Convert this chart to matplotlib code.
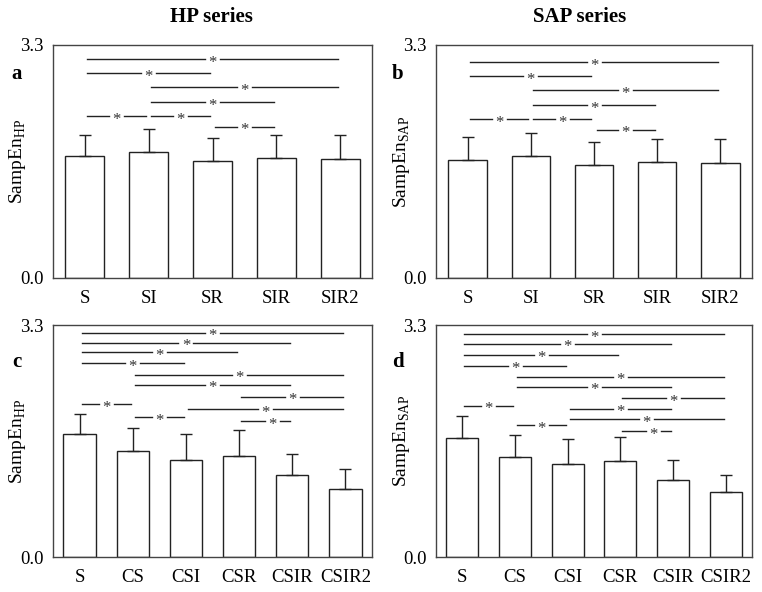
import matplotlib
matplotlib.use('Agg')
import matplotlib.pyplot as plt

plt.rcParams['font.family'] = ['Liberation Serif', 'DejaVu Serif']
plt.rcParams['mathtext.fontset'] = 'custom'
plt.rcParams['mathtext.rm'] = 'Liberation Serif'

# categories
cats_top = ['S', 'SI', 'SR', 'SIR', 'SIR2']
cats_bot = ['S', 'CS', 'CSI', 'CSR', 'CSIR', 'CSIR2']

# means and SD (upper error only)
hp_top = [1.73, 1.79, 1.66, 1.70, 1.68]
hp_top_err = [0.30, 0.32, 0.32, 0.33, 0.34]
sap_top = [1.67, 1.73, 1.60, 1.64, 1.63]
sap_top_err = [0.32, 0.33, 0.32, 0.33, 0.34]
hp_bot = [1.75, 1.505, 1.38, 1.44, 1.16, 0.97]
hp_bot_err = [0.29, 0.325, 0.37, 0.36, 0.31, 0.275]
sap_bot = [1.69, 1.425, 1.325, 1.36, 1.09, 0.92]
sap_bot_err = [0.32, 0.305, 0.355, 0.34, 0.29, 0.24]

# significant pairs (index i, index j) and the height of each bracket
sig_top_hp = [(0, 4), (0, 2), (1, 4), (1, 3), (0, 1), (1, 2), (2, 3)]
sig_top_hp_y = [3.10, 2.90, 2.705, 2.49, 2.29, 2.29, 2.14]
sig_top_sap = [(0, 4), (0, 2), (1, 4), (1, 3), (0, 1), (1, 2), (2, 3)]
sig_top_sap_y = [3.055, 2.86, 2.66, 2.45, 2.25, 2.25, 2.10]
sig_bot_hp = [(0, 5), (0, 4), (0, 3), (0, 2), (1, 5), (1, 4), (3, 5), (0, 1), (2, 5), (1, 2), (3, 4)]
sig_bot_hp_y = [3.19, 3.05, 2.91, 2.755, 2.59, 2.45, 2.28, 2.17, 2.10, 1.99, 1.93]
sig_bot_sap = [(0, 5), (0, 4), (0, 3), (0, 2), (1, 5), (1, 4), (3, 5), (0, 1), (2, 4), (2, 5), (1, 2), (3, 4)]
sig_bot_sap_y = [3.17, 3.03, 2.88, 2.72, 2.565, 2.42, 2.26, 2.15, 2.11, 1.96, 1.875, 1.79]

YMAX = 3.3
ink = '#222222'

fig = plt.figure(figsize=(7.62, 5.92), dpi=100)

def panel(rect, cats, vals, errs, pairs, levels, ylab):
    ax = fig.add_axes(rect)
    n = len(cats)
    x = list(range(n))
    ax.bar(x, vals, width=0.61, color='white', edgecolor=ink, linewidth=1.0, zorder=2)
    ax.errorbar(x, vals, yerr=[[0] * n, errs], fmt='none', ecolor=ink,
                elinewidth=1.0, capsize=4, capthick=1.0, zorder=3)
    ax.set_xlim(-0.5, n - 0.5)
    ax.set_ylim(0, YMAX)
    ax.set_yticks([0, YMAX])
    ax.set_yticklabels(['0.0', '3.3'])
    ax.set_xticks(x)
    ax.set_xticklabels(cats)
    ax.tick_params(length=0, labelsize=13.5)
    ax.tick_params(axis='y', pad=7)
    ax.tick_params(axis='x', pad=9)
    for s in ax.spines.values():
        s.set_color('#444444')
        s.set_linewidth(1.0)
    ax.set_ylabel(ylab, fontsize=14)
    ax.yaxis.set_label_coords(-0.077, 0.5)
    # gap around the star in data units
    px_per_unit = rect[2] * 762 / n
    gap = 7.5 / px_per_unit
    for (i, j), yv in zip(pairs, levels):
        x1, x2 = i + 0.04, j - 0.04
        mid = (i + j) / 2
        # in the source the star of the CSR-CSIR bracket sits a little right of centre
        if n == 6 and (i, j) == (3, 4):
            mid += 7 / px_per_unit
        ax.plot([x1, mid - gap], [yv, yv], color=ink, lw=1.0, zorder=3)
        ax.plot([mid + gap, x2], [yv, yv], color=ink, lw=1.0, zorder=3)
        ax.text(mid, yv - 0.05, '*', ha='center', va='center', fontsize=12,
                color='#333333', zorder=4)
    return ax

L1, W1 = 53 / 762, (372 - 53) / 762
L2, W2 = 436 / 762, (752 - 436) / 762
B1, H1 = 1 - 278 / 592, (278 - 45) / 592
B2, H2 = 1 - 557 / 592, (557 - 325) / 592

panel([L1, B1, W1, H1], cats_top, hp_top, hp_top_err, sig_top_hp, sig_top_hp_y, r'SampEn$_{\mathrm{HP}}$')
panel([L2, B1, W2, H1], cats_top, sap_top, sap_top_err, sig_top_sap, sig_top_sap_y, r'SampEn$_{\mathrm{SAP}}$')
panel([L1, B2, W1, H2], cats_bot, hp_bot, hp_bot_err, sig_bot_hp, sig_bot_hp_y, r'SampEn$_{\mathrm{HP}}$')
panel([L2, B2, W2, H2], cats_bot, sap_bot, sap_bot_err, sig_bot_sap, sig_bot_sap_y, r'SampEn$_{\mathrm{SAP}}$')

fig.text(211 / 762, 1 - 17 / 592, 'HP series', ha='center', va='center', fontsize=15, fontweight='bold')
fig.text(580 / 762, 1 - 17 / 592, 'SAP series', ha='center', va='center', fontsize=15, fontweight='bold')
for lab, (px, py) in zip(['a', 'b', 'c', 'd'], [(17, 74), (398, 74), (17, 362), (398, 362)]):
    fig.text(px / 762, 1 - py / 592, lab, ha='center', va='center', fontsize=15, fontweight='bold')

fig.savefig('out.png', dpi=100)
